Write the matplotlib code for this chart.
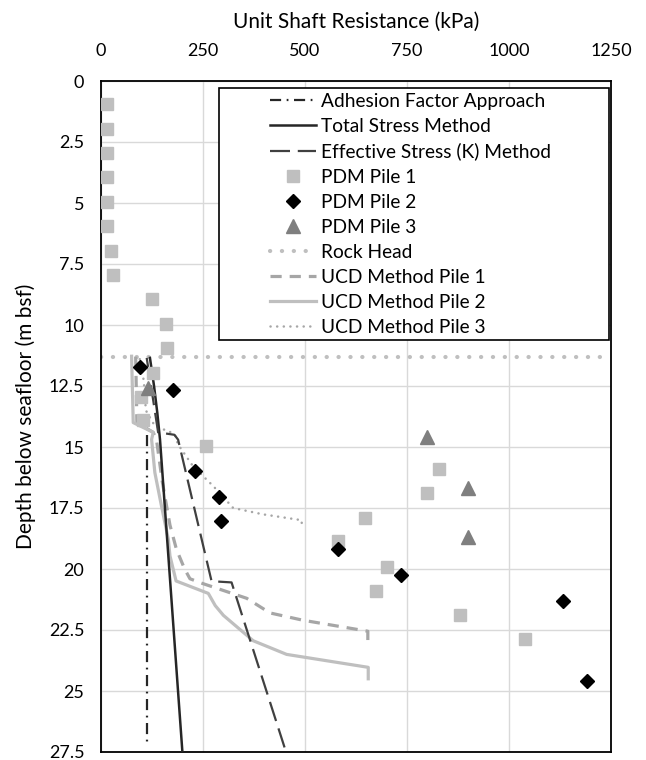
import matplotlib
matplotlib.use("Agg")
import matplotlib.pyplot as plt
from matplotlib.patches import Rectangle
from matplotlib.ticker import FormatStrFormatter, MultipleLocator

plt.rcParams['font.family'] = ['Lato', 'DejaVu Sans']

# ---------------- data ----------------
pdm1_q = [14, 14, 14, 14, 14, 15, 24, 29, 124, 160, 162, 128, 97, 104, 257,
          828, 800, 648, 581, 702, 674, 881, 1038]
pdm1_z = [0.95, 1.95, 2.95, 3.95, 4.95, 5.95, 6.95, 7.95, 8.95, 9.95, 10.95,
          11.95, 12.95, 13.9, 14.95, 15.9, 16.9, 17.9, 18.85, 19.9, 20.9, 21.9, 22.85]

pdm2_q = [96, 176, 230, 290, 295, 580, 735, 1133, 1190]
pdm2_z = [11.72, 12.68, 15.98, 17.03, 18.03, 19.16, 20.25, 21.3, 24.58]

pdm3_q = [116, 798, 899, 899]
pdm3_z = [12.6, 14.6, 16.67, 18.67]

rock_q = [0, 1250]
rock_z = [11.3, 11.3]

adh_q = [113, 113]
adh_z = [14.5, 27.2]

tot_q = [120, 130, 138, 144.6, 199.5]
tot_z = [11.35, 12.5, 13.6, 14.69, 27.5]

eff_q = [112, 140, 180, 189, 271, 320, 453.5]
eff_z = [11.35, 14.4, 14.5, 14.7, 20.5, 20.55, 27.5]

ucd1_q = [85, 88, 128, 136, 150, 169, 185, 205, 218, 250, 357, 414, 495, 654, 654]
ucd1_z = [11.3, 14.0, 14.4, 14.7, 16.4, 18.2, 19.2, 20.0, 20.4, 20.6, 21.2, 21.8, 22.1, 22.55, 23.0]

ucd2_q = [75, 79, 128, 124, 132, 148, 165, 169, 184, 263, 280, 300, 373, 455, 655, 655]
ucd2_z = [11.28, 14.0, 14.4, 14.69, 16.05, 17.4, 18.78, 19.46, 20.49, 21.0, 21.5, 21.9, 22.94, 23.5, 24.03, 24.5]

ucd3_q = [95, 105, 110, 132, 169, 181, 189, 226, 275, 324, 397, 492, 492]
ucd3_z = [11.4, 12.3, 13.5, 14.14, 14.38, 14.5, 14.9, 15.8, 16.6, 17.5, 17.76, 18.0, 18.3]

x_ticks = [0, 250, 500, 750, 1000, 1250]

# ---------------- figure ----------------
fig = plt.figure(figsize=(6.46, 7.6), dpi=100)
ax = fig.add_axes([101 / 646, 1 - 752 / 760, 510 / 646, 671 / 760])

ax.plot(adh_q, adh_z, color='#262626', lw=1.6, dashes=(5, 2.5, 0.8, 2.5),
        label='Adhesion Factor Approach', zorder=3)
ax.plot(tot_q, tot_z, color='#262626', lw=1.8, label='Total Stress Method', zorder=3)
ax.plot(eff_q, eff_z, color='#404040', lw=1.6, dashes=(9, 3.5),
        label='Effective Stress (K) Method', zorder=3)
ax.plot(pdm1_q, pdm1_z, ls='none', marker='s', ms=8.3, color='#bfbfbf',
        mec='#bfbfbf', label='PDM Pile 1', zorder=4)
ax.plot(pdm2_q, pdm2_z, ls='none', marker='D', ms=7.4, color='black',
        label='PDM Pile 2', zorder=5)
ax.plot(pdm3_q, pdm3_z, ls='none', marker='^', ms=9.5, color='#7f7f7f',
        label='PDM Pile 3', zorder=5)
ax.plot(rock_q, rock_z, color='#bfbfbf', lw=3.0, dashes=(0.05, 2.8),
        dash_capstyle='round', label='Rock Head', zorder=2)
ax.plot(ucd1_q, ucd1_z, color='#a6a6a6', lw=2.3, dashes=(3.5, 2.5),
        label='UCD Method Pile 1', zorder=2)
ax.plot(ucd2_q, ucd2_z, color='#bfbfbf', lw=2.3, label='UCD Method Pile 2', zorder=2)
ax.plot(ucd3_q, ucd3_z, color='#a6a6a6', lw=1.8, dashes=(0.05, 2.6),
        dash_capstyle='round', label='UCD Method Pile 3', zorder=2)

ax.set_xlim(0, 1250)
ax.set_ylim(27.5, 0)
ax.set_xticks(x_ticks)
ax.yaxis.set_major_locator(MultipleLocator(2.5))
ax.yaxis.set_major_formatter(FormatStrFormatter('%g'))
ax.xaxis.tick_top()
ax.xaxis.set_label_position('top')
ax.grid(True, color='#d9d9d9', lw=1.0)
ax.set_axisbelow(True)
ax.tick_params(axis='both', length=0, labelsize=13, colors='black')
ax.tick_params(axis='x', pad=15.5)
ax.tick_params(axis='y', pad=12)
ax.set_xlabel('Unit Shaft Resistance (kPa)', fontsize=15, labelpad=11)
ax.set_ylabel('Depth below seafloor (m bsf)', fontsize=15, labelpad=9)
for s in ax.spines.values():
    s.set_color('black')
    s.set_linewidth(1.3)

# legend box
ax.add_patch(Rectangle((0.231, 0.6146), 0.765, 0.375, transform=ax.transAxes,
                       facecolor='white', edgecolor='black', lw=1.2, zorder=6))
leg = ax.legend(loc='upper left', bbox_to_anchor=(0.309, 1.0), frameon=False,
                fontsize=13.8, handlelength=2.4, handletextpad=0.25,
                labelspacing=0.42, borderaxespad=0.2)
leg.set_zorder(7)

fig.savefig('out.png', dpi=100)
